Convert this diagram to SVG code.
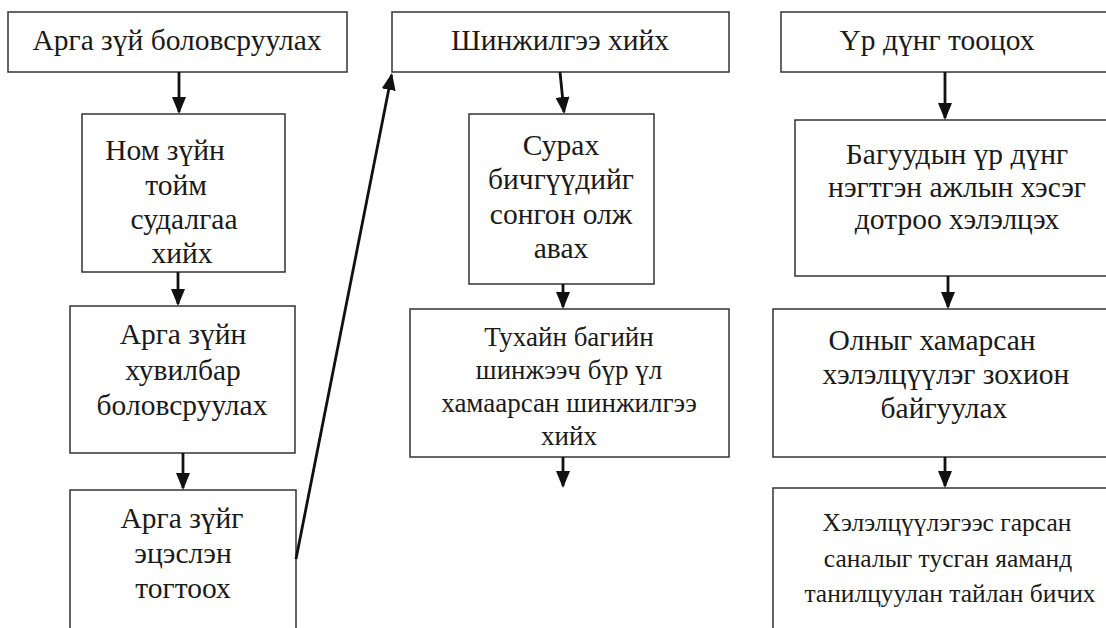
<svg xmlns="http://www.w3.org/2000/svg" width="1106" height="628" viewBox="0 0 1106 628">
<style>
.box{fill:#fff;stroke:#333;stroke-width:1.5}
.t{font-size:29.5px;fill:#1a1a1a;text-anchor:middle}
.s{font-size:27px}
.u{font-size:25.5px}
.c{stroke:#111;stroke-width:2.8;fill:none;marker-end:url(#ah)}
</style>
<defs>
<marker id="ah" markerUnits="userSpaceOnUse" markerWidth="19" markerHeight="14" refX="15" refY="7" orient="auto">
<path d="M0,0 L17,7 L0,14 z" fill="#111"/>
</marker>
</defs>
<rect width="1106" height="628" fill="#fff"/>
<g id="n1"><rect class="box" x="8" y="12" width="339" height="60"/><text class="t" font-family="Liberation Serif" x="177" y="50">Арга зүй боловсруулах</text></g>
<g id="n2"><rect class="box" x="82" y="114" width="203" height="158"/>
<text class="t" font-family="Liberation Serif" x="165" y="160">Ном зүйн</text><text class="t" font-family="Liberation Serif" x="176" y="195">тойм</text><text class="t" font-family="Liberation Serif" x="184" y="229">судалгаа</text><text class="t" font-family="Liberation Serif" x="182" y="263">хийх</text></g>
<g id="n3"><rect class="box" x="70" y="306" width="225" height="147"/>
<text class="t" font-family="Liberation Serif" x="183" y="344">Арга зүйн</text><text class="t" font-family="Liberation Serif" x="183" y="380">хувилбар</text><text class="t" font-family="Liberation Serif" x="182" y="415">боловсруулах</text></g>
<g id="n4"><rect class="box" x="70" y="490" width="226" height="160"/>
<text class="t" font-family="Liberation Serif" x="182" y="528">Арга зүйг</text><text class="t" font-family="Liberation Serif" x="183" y="563">эцэслэн</text><text class="t" font-family="Liberation Serif" x="183" y="598">тогтоох</text></g>
<g id="n5"><rect class="box" x="392" y="12" width="337" height="60"/><text class="t" font-family="Liberation Serif" x="560" y="50">Шинжилгээ хийх</text></g>
<g id="n6"><rect class="box" x="469" y="114" width="185" height="170"/>
<text class="t" font-family="Liberation Serif" x="561" y="155">Сурах</text><text class="t" font-family="Liberation Serif" x="561" y="189">бичгүүдийг</text><text class="t" font-family="Liberation Serif" x="561" y="224">сонгон олж</text><text class="t" font-family="Liberation Serif" x="561" y="258">авах</text></g>
<g id="n7"><rect class="box" x="410" y="309" width="319" height="148"/>
<text class="t s" font-family="Liberation Serif" x="569" y="346">Тухайн багийн</text><text class="t s" font-family="Liberation Serif" x="569" y="379">шинжээч бүр үл</text><text class="t s" font-family="Liberation Serif" x="569" y="412">хамаарсан шинжилгээ</text><text class="t s" font-family="Liberation Serif" x="569" y="445">хийх</text></g>
<g id="n8"><rect class="box" x="781" y="12" width="340" height="60"/><text class="t" font-family="Liberation Serif" x="937" y="50">Үр дүнг тооцох</text></g>
<g id="n9"><rect class="box" x="795" y="120" width="330" height="156"/>
<text class="t" font-family="Liberation Serif" x="957" y="164">Багуудын үр дүнг</text><text class="t" font-family="Liberation Serif" x="957" y="197">нэгтгэн ажлын хэсэг</text><text class="t" font-family="Liberation Serif" x="957" y="229">дотроо хэлэлцэх</text></g>
<g id="n10"><rect class="box" x="773" y="309" width="350" height="148"/>
<text class="t" font-family="Liberation Serif" x="932" y="350">Олныг хамарсан</text><text class="t" font-family="Liberation Serif" x="946" y="384">хэлэлцүүлэг зохион</text><text class="t" font-family="Liberation Serif" x="944" y="418">байгуулах</text></g>
<g id="n11"><rect class="box" x="773" y="488" width="350" height="160"/>
<text class="t u" font-family="Liberation Serif" x="947" y="531">Хэлэлцүүлэгээс гарсан</text><text class="t u" font-family="Liberation Serif" x="948" y="567">саналыг тусган яаманд</text><text class="t u" font-family="Liberation Serif" x="950" y="602">танилцуулан тайлан бичих</text></g>
<g id="connectors">
<line class="c" x1="179" y1="72" x2="179" y2="112"/>
<line class="c" x1="178" y1="272" x2="178" y2="304"/>
<line class="c" x1="183" y1="453" x2="183" y2="488"/>
<line class="c" x1="296" y1="559" x2="391.6" y2="75"/>
<line class="c" x1="560" y1="72" x2="564" y2="112"/>
<line class="c" x1="563" y1="284" x2="563" y2="307"/>
<line class="c" x1="563" y1="457" x2="563" y2="486"/>
<line class="c" x1="945" y1="72" x2="945" y2="118"/>
<line class="c" x1="948" y1="276" x2="948" y2="307"/>
<line class="c" x1="945" y1="457" x2="945" y2="486"/>
</g>
</svg>
